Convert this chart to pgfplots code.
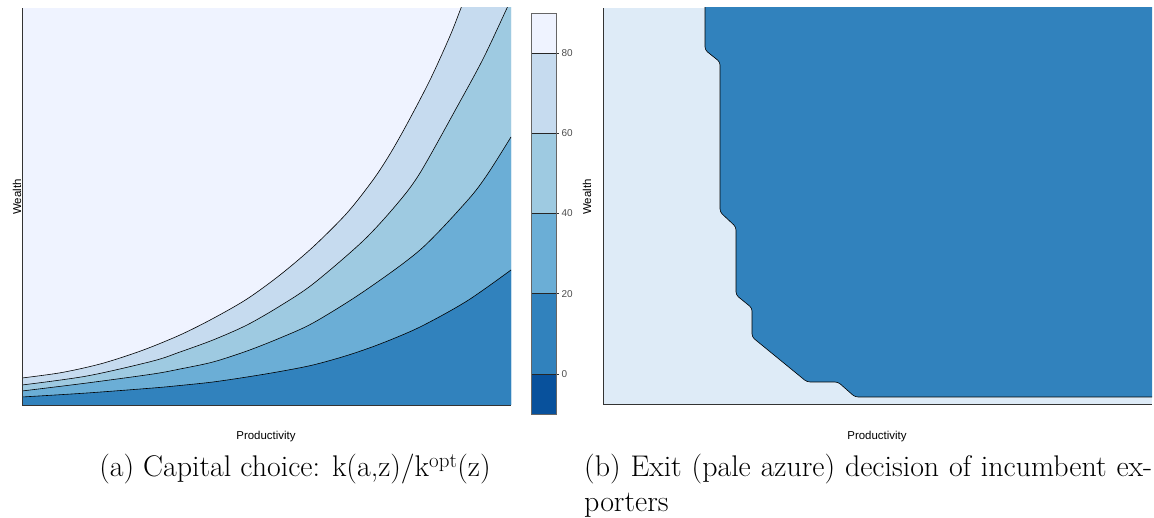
\documentclass[border=0pt]{standalone}
\usepackage{pgfplots}
\pgfplotsset{compat=1.18}
\usepackage{fontspec}
\newfontfamily\lab{Liberation Sans}
\definecolor{b1}{HTML}{EFF3FF}
\definecolor{b2}{HTML}{C6DBEF}
\definecolor{b3}{HTML}{9ECAE1}
\definecolor{b4}{HTML}{6BAED6}
\definecolor{b5}{HTML}{3182BD}
\definecolor{b6}{HTML}{08519C}
\definecolor{pale}{HTML}{DEEBF7}
\pgfplotsset{
  panel/.style={scale only axis, axis lines*=left,
    axis line style={-, black!80, line width=0.8pt},
    xtick=\empty, ytick=\empty, axis on top},
}
\begin{document}
\begin{tikzpicture}[x=1bp,y=1bp]
\useasboundingbox (0,0) rectangle (1154,518);
% ---------- left panel ----------
\begin{axis}[panel, at={(22bp,113bp)}, anchor=south west,
  width=489bp, height=397bp, xmin=0, xmax=489, ymin=0, ymax=397,
  axis background/.style={fill=b1}]
\addplot[fill=b2, draw=none, smooth, tension=0.5] coordinates {(0,27) (40,32.5) (80,41.5) (120,54.5) (158,70) (191,86.5) (225,106) (258,130) (291,158) (325,192) (351,225) (368,251) (385,281) (408,325) (428,369) (439,397) (448,420)} -- (axis cs:495,420) -- (axis cs:495,0) -- (axis cs:0,0) -- cycle;
\addplot[fill=b3, draw=none, smooth, tension=0.5] coordinates {(0,20) (65,29) (131,44) (158,53) (191,65) (225,80) (258,99) (291,121) (341,164) (375,201) (398,232) (435,298) (461,346) (485,397) (493,415)} -- (axis cs:495,420) -- (axis cs:495,0) -- (axis cs:0,0) -- cycle;
\addplot[fill=b4, draw=none, smooth, tension=0.5] coordinates {(0,14) (65,22) (131,31) (158,36) (191,43) (225,54) (258,67) (291,82) (341,113) (398,155) (445,204) (465,230) (489,268)} -- (axis cs:495,276) -- (axis cs:495,0) -- (axis cs:0,0) -- cycle;
\addplot[fill=b5, draw=none, smooth, tension=0.5] coordinates {(0,8) (65,12) (131,17) (158,19.5) (191,23) (225,28) (258,33.5) (291,40) (325,49.5) (358,61) (398,78) (445,104) (489,135)} -- (axis cs:495,139) -- (axis cs:495,0) -- (axis cs:0,0) -- cycle;
\addplot[black, line width=0.6pt, smooth, tension=0.5] coordinates {(0,27) (40,32.5) (80,41.5) (120,54.5) (158,70) (191,86.5) (225,106) (258,130) (291,158) (325,192) (351,225) (368,251) (385,281) (408,325) (428,369) (439,397) (448,420)};
\addplot[black, line width=0.6pt, smooth, tension=0.5] coordinates {(0,20) (65,29) (131,44) (158,53) (191,65) (225,80) (258,99) (291,121) (341,164) (375,201) (398,232) (435,298) (461,346) (485,397) (493,415)};
\addplot[black, line width=0.6pt, smooth, tension=0.5] coordinates {(0,14) (65,22) (131,31) (158,36) (191,43) (225,54) (258,67) (291,82) (341,113) (398,155) (445,204) (465,230) (489,268)};
\addplot[black, line width=0.6pt, smooth, tension=0.5] coordinates {(0,8) (65,12) (131,17) (158,19.5) (191,23) (225,28) (258,33.5) (291,40) (325,49.5) (358,61) (398,78) (445,104) (489,135)};
\end{axis}
% ---------- colour bar ----------
\begin{axis}[scale only axis, at={(531bp,104bp)}, anchor=south west,
  width=25bp, height=401bp, xmin=0, xmax=1, ymin=-10, ymax=90,
  xtick=\empty, ytick={0,20,40,60,80}, ytick pos=right,
  tick align=outside, major tick length=3bp,
  tick style={black!80, line width=0.6pt},
  axis line style={black!60, line width=0.6pt},
  /pgf/number format/assume math mode=true,
  yticklabel style={font=\lab\fontsize{10}{12}\selectfont, text=black!70, xshift=-1bp},
  axis on top]
\addplot[fill=b6, draw=none] coordinates {(0,-10) (1,-10) (1,0) (0,0)};
\addplot[fill=b5, draw=none] coordinates {(0,0) (1,0) (1,20) (0,20)};
\addplot[fill=b4, draw=none] coordinates {(0,20) (1,20) (1,40) (0,40)};
\addplot[fill=b3, draw=none] coordinates {(0,40) (1,40) (1,60) (0,60)};
\addplot[fill=b2, draw=none] coordinates {(0,60) (1,60) (1,80) (0,80)};
\addplot[fill=b1, draw=none] coordinates {(0,80) (1,80) (1,90) (0,90)};
\addplot[black!85, line width=0.6pt] coordinates {(0,0) (1,0)};
\addplot[black!85, line width=0.6pt] coordinates {(0,20) (1,20)};
\addplot[black!85, line width=0.6pt] coordinates {(0,40) (1,40)};
\addplot[black!85, line width=0.6pt] coordinates {(0,60) (1,60)};
\addplot[black!85, line width=0.6pt] coordinates {(0,80) (1,80)};
\end{axis}
% ---------- right panel ----------
\begin{axis}[panel, at={(603bp,114bp)}, anchor=south west,
  width=549bp, height=396bp, xmin=0, xmax=549, ymin=0, ymax=396,
  axis background/.style={fill=pale}]
\addplot[fill=b5, draw=none, rounded corners=3bp] coordinates {(102,410) (102,354) (117,342) (117,192) (133,177) (133,109) (149,96) (149,67) (204,22) (235,22) (252,7) (560,7) (560,410)};
\addplot[black, line width=0.6pt, rounded corners=3bp] coordinates {(102,410) (102,354) (117,342) (117,192) (133,177) (133,109) (149,96) (149,67) (204,22) (235,22) (252,7) (560,7)};
\end{axis}
% ---------- labels ----------
\node[font=\lab\fontsize{11.5}{13}\selectfont, anchor=base] at (266,78) {Productivity};
\node[font=\lab\fontsize{11.5}{13}\selectfont, anchor=base] at (877,78) {Productivity};
\node[font=\lab\fontsize{11.5}{13}\selectfont, anchor=base, rotate=90] at (21,321) {Wealth};
\node[font=\lab\fontsize{11.5}{13}\selectfont, anchor=base, rotate=90] at (591,321) {Wealth};
% ---------- captions ----------
\node[font=\fontsize{30}{36}\selectfont, anchor=base, inner sep=0pt] at (295,41) {(a) Capital choice: k(a,z)/k\textsuperscript{opt}(z)};
\node[font=\fontsize{30}{36}\selectfont, anchor=base west, inner sep=0pt] at (584,41) {\makebox[568bp][s]{(b) Exit (pale azure) decision of incumbent ex-}};
\node[font=\fontsize{30}{36}\selectfont, anchor=base west, inner sep=0pt] at (584,6) {porters};
\end{tikzpicture}
\end{document}
